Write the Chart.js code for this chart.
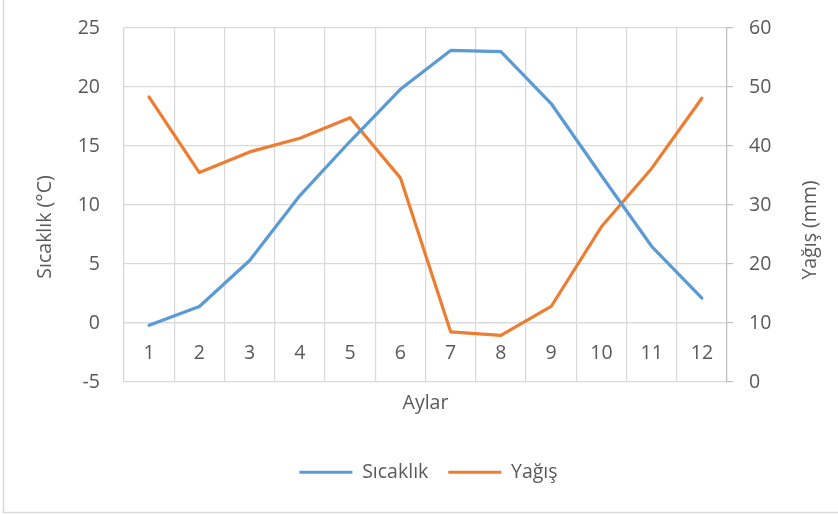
<!DOCTYPE html>
<html>
<head>
<meta charset="utf-8">
<script src="https://cdn.jsdelivr.net/npm/chart.js@4/dist/chart.umd.min.js"></script>
<style>
  html, body { margin: 0; padding: 0; background: #ffffff; }
  #wrap { width: 838px; height: 515px; position: relative; }
</style>
</head>
<body>
<div id="wrap"><canvas id="c" width="838" height="515"></canvas></div>
<script>
const months = ['1', '2', '3', '4', '5', '6', '7', '8', '9', '10', '11', '12'];
const temperature = [-0.2, 1.4, 5.3, 10.8, 15.4, 19.8, 23.1, 23.0, 18.6, 12.5, 6.5, 2.1];
const precipitation = [48.3, 35.5, 39.0, 41.3, 44.8, 34.6, 8.5, 7.9, 12.8, 26.3, 36.2, 48.1];
const seriesNames = ['Sıcaklık', 'Yağış'];
const leftTicks = [-5, 0, 5, 10, 15, 20, 25];
const rightTicks = [0, 10, 20, 30, 40, 50, 60];
const xTitle = 'Aylar';
const leftTitle = 'Sıcaklık (°C)';
const rightTitle = 'Yağış (mm)';

const FONT = "'Open Sans', 'Liberation Sans', sans-serif";
const FS = 19.5;
const TXT = '#595959';
const GRID = '#d9d9d9';
const AXIS = '#bfbfbf';

Chart.defaults.font.family = FONT;
Chart.defaults.font.size = FS;
Chart.defaults.color = TXT;

const decor = {
  id: 'decor',
  beforeDraw(chart) {
    const ctx = chart.ctx;
    ctx.save();
    ctx.strokeStyle = GRID;
    ctx.lineWidth = 1.5;
    ctx.beginPath();
    ctx.moveTo(3.5, 0);
    ctx.lineTo(3.5, 512.5);
    ctx.lineTo(838, 512.5);
    ctx.stroke();
    ctx.restore();
  },
  afterDraw(chart) {
    const ctx = chart.ctx;
    const drawRot = (text, x, y) => {
      ctx.save();
      ctx.fillStyle = TXT;
      ctx.font = FS + 'px ' + FONT;
      ctx.textAlign = 'center';
      ctx.textBaseline = 'middle';
      ctx.translate(x, y);
      ctx.rotate(-Math.PI / 2);
      ctx.fillText(text, 0, 0);
      ctx.restore();
    };
    drawRot(leftTitle, 45, 227);
    drawRot(rightTitle, 810, 230);
  }
};

new Chart(document.getElementById('c'), {
  type: 'line',
  data: {
    labels: months,
    datasets: [
      {
        label: seriesNames[0],
        data: temperature,
        yAxisID: 'y',
        borderColor: '#5B9BD5',
        backgroundColor: '#5B9BD5',
        borderWidth: 3.2,
        borderCapStyle: 'round',
        borderJoinStyle: 'round',
        pointRadius: 0,
        pointHoverRadius: 0,
        tension: 0,
        pointStyle: 'line'
      },
      {
        label: seriesNames[1],
        data: precipitation,
        yAxisID: 'y1',
        borderColor: '#ED7D31',
        backgroundColor: '#ED7D31',
        borderWidth: 3.2,
        borderCapStyle: 'round',
        borderJoinStyle: 'round',
        pointRadius: 0,
        pointHoverRadius: 0,
        tension: 0,
        pointStyle: 'line'
      }
    ]
  },
  options: {
    responsive: false,
    animation: false,
    devicePixelRatio: 1,
    layout: { padding: { top: 28, left: 19, right: 0, bottom: 23 } },
    plugins: {
      tooltip: { enabled: false },
      legend: {
        position: 'bottom',
        labels: {
          usePointStyle: true,
          pointStyleWidth: 53,
          padding: 20,
          color: TXT,
          font: { size: FS, family: FONT }
        }
      }
    },
    scales: {
      x: {
        type: 'category',
        position: { y: 0 },
        offset: true,
        grid: { color: GRID, offset: true, drawTicks: false, lineWidth: 1.2 },
        border: { color: GRID, width: 1.2 },
        ticks: { padding: 19, color: TXT, maxRotation: 0, autoSkip: false }
      },
      x2: {
        type: 'category',
        labels: months,
        position: 'bottom',
        display: true,
        grid: { display: false, drawTicks: false },
        border: { display: false },
        ticks: { display: false },
        title: { display: true, text: xTitle, color: TXT, font: { size: FS, family: FONT }, padding: { top: 0, bottom: 27 } },
        afterFit(s) { s.height = 60.5; }
      },
      y: {
        position: 'left',
        min: leftTicks[0],
        max: leftTicks[leftTicks.length - 1],
        afterBuildTicks(s) { s.ticks = leftTicks.map(v => ({ value: v })); },
        grid: { color: GRID, drawTicks: true, tickLength: 24, tickColor: 'rgba(0,0,0,0)', lineWidth: 1.2 },
        border: { color: GRID, width: 1.2 },
        ticks: { padding: 0, color: TXT },
        afterFit(s) { s.width = 105; }
      },
      y1: {
        position: 'right',
        min: rightTicks[0],
        max: rightTicks[rightTicks.length - 1],
        afterBuildTicks(s) { s.ticks = rightTicks.map(v => ({ value: v })); },
        grid: { drawOnChartArea: false, color: AXIS, drawTicks: true, tickLength: 6, lineWidth: 1.2 },
        border: { color: AXIS, width: 1.2 },
        ticks: { padding: 16, color: TXT },
        afterFit(s) { s.width = 111; }
      }
    }
  },
  plugins: [decor]
});
</script>
</body>
</html>
